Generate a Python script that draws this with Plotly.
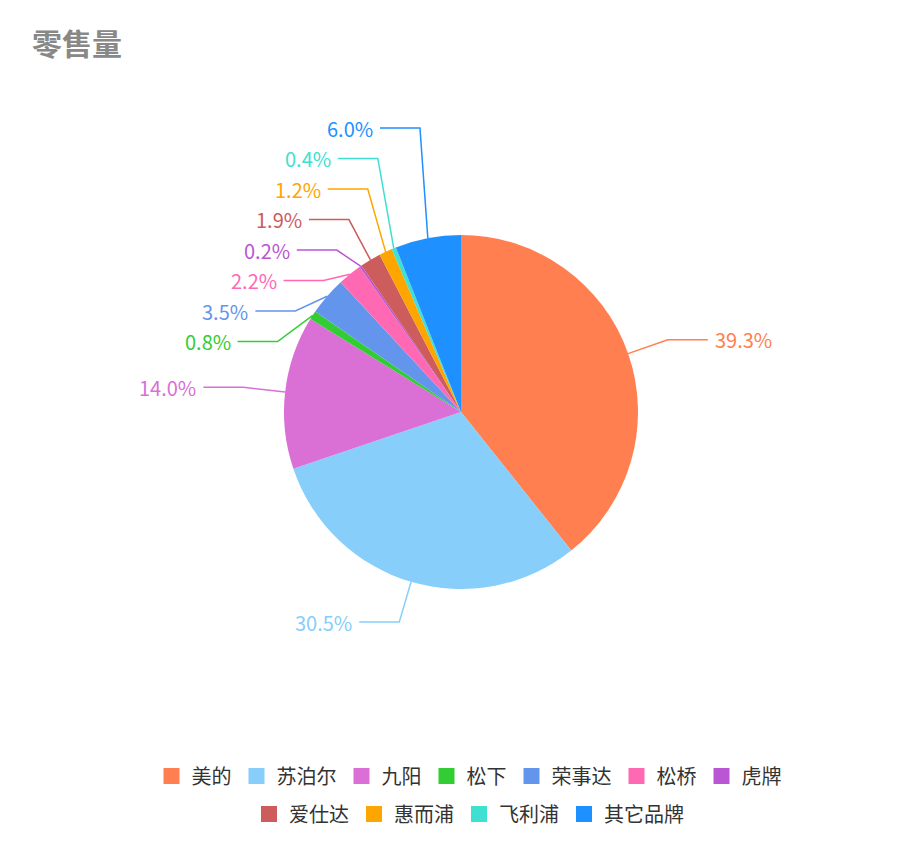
import math
import plotly.graph_objects as go

brands = ["美的", "苏泊尔", "九阳", "松下", "荣事达", "松桥", "虎牌", "爱仕达", "惠而浦", "飞利浦", "其它品牌"]
shares = [39.3, 30.5, 14.0, 0.8, 3.5, 2.2, 0.2, 1.9, 1.2, 0.4, 6.0]
colors = ["#ff7f50", "#87cefa", "#da70d6", "#32cd32", "#6495ed", "#ff69b4",
          "#ba55d3", "#cd5c5c", "#ffa500", "#40e0d0", "#1e90ff"]

W, H = 922, 848
cx, cy, r = 461, 412, 177
L1, L2, GAP = 42, 40, 30.5
FONT = "Noto Sans CJK SC"
DX, DY = -8, -8  # compensate plotly pie placement

fig = go.Figure(go.Pie(
    labels=brands, values=shares, sort=False, direction="clockwise", rotation=0,
    marker=dict(colors=colors, line=dict(width=0)), textinfo="none",
    hoverinfo="label+percent", showlegend=False,
    domain=dict(x=[(cx - r + DX) / W, (cx + r + DX) / W],
                y=[1 - (cy + r + DY) / H, 1 - (cy - r + DY) / H]),
))

total = sum(shares)
items = []
cum = 0
for b, v, c in zip(brands, shares, colors):
    mid = (cum + v / 2) / total * 2 * math.pi
    cum += v
    s, co = math.sin(mid), math.cos(mid)
    items.append(dict(v=v, c=c, s=s, co=co, ex=cx + r * s, ey=cy - r * co,
                      kx=cx + (r + L1) * s, ky=cy - (r + L1) * co, right=s >= 0))

# overlap avoidance: merge overlapping labels into clusters centred on their natural mean
for side in (True, False):
    grp = sorted([it for it in items if it["right"] == side], key=lambda d: d["ky"])
    clusters = [[it] for it in grp]
    def place(cl):
        m = sum(it["ky"] for it in cl) / len(cl)
        top = m - GAP * (len(cl) - 1) / 2
        return [top + GAP * i for i in range(len(cl))]
    changed = True
    while changed:
        changed = False
        for i in range(len(clusters) - 1):
            a, b = place(clusters[i]), place(clusters[i + 1])
            if b[0] - a[-1] < GAP:
                clusters[i] = clusters[i] + clusters[i + 1]
                del clusters[i + 1]
                changed = True
                break
    for cl in clusters:
        ys = place(cl)
        for it, y in zip(cl, ys):
            it["ly"] = y

px = lambda x: (x + DX) / W
py = lambda y: 1 - (y + DY) / H
shapes, ann = [], []
for it in items:
    d = 1 if it["right"] else -1
    tx = it["kx"] + d * L2
    path = f"M {px(it['ex'])} {py(it['ey'])} L {px(it['kx'])} {py(it['ly'])} L {px(tx)} {py(it['ly'])}"
    shapes.append(dict(type="path", xref="paper", yref="paper", path=path,
                       line=dict(color=it["c"], width=1.5)))
    ann.append(dict(x=px(tx + d * 5), y=py(it["ly"]), xref="paper", yref="paper",
                    text=f"{it['v']:.1f}%", showarrow=False,
                    xanchor="left" if it["right"] else "right", yanchor="middle",
                    font=dict(size=20, color=it["c"], family=FONT)))

ann.append(dict(x=22 / W, y=1 - 34 / H, xref="paper", yref="paper", text="<b>零售量</b>",
                showarrow=False, xanchor="left", yanchor="middle",
                font=dict(size=30, color="#888888", family=FONT)))

# legend entries in two centred rows
for i, (b, c) in enumerate(zip(brands, colors)):
    fig.add_trace(go.Scatter(x=[None], y=[None], mode="markers", name=b,
                             marker=dict(symbol="square", size=16, color=c),
                             legend="legend" if i < 7 else "legend2"))

leg = dict(orientation="h", xanchor="center", x=0.5, yanchor="middle",
           font=dict(size=20, family=FONT, color="#333"), itemwidth=30,
           traceorder="normal", bgcolor="rgba(0,0,0,0)")
fig.update_layout(
    width=W, height=H, margin=dict(l=0, r=0, t=0, b=0),
    paper_bgcolor="white", plot_bgcolor="white",
    font=dict(family=FONT, size=20, color="#333"),
    shapes=shapes, annotations=ann,
    xaxis=dict(visible=False), yaxis=dict(visible=False),
    legend=dict(leg, y=1 - 768 / H),
    legend2=dict(leg, y=1 - 806 / H),
)
fig.write_html("out.html")
